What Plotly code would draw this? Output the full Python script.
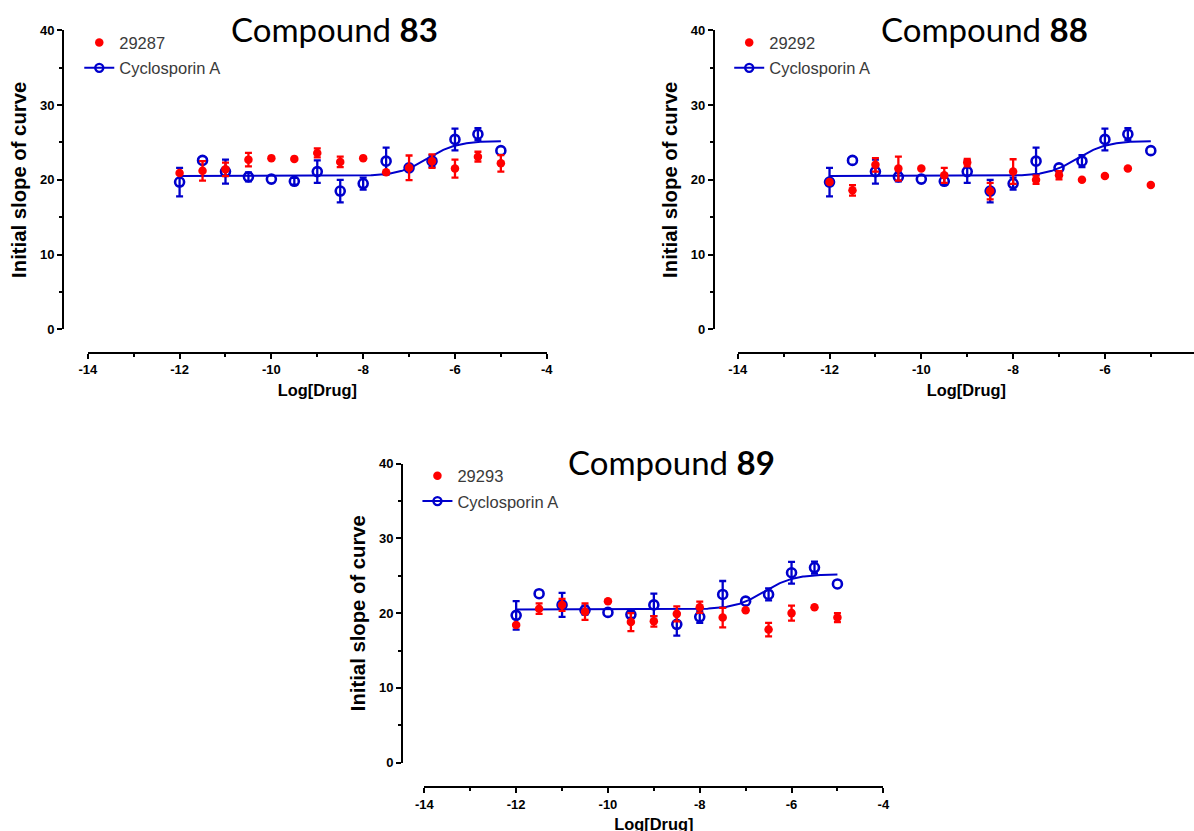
import numpy as np
import plotly.graph_objects as go

# Figure canvas, plus the page-to-picture mapping of the viewer
# (body margin of 8px; the captured page area is slightly larger than the picture)
FW, FH = 1202, 839
BODY_MARGIN = 8
SX, SY = 1194 / 1210, 831 / 847

# Log10 molar concentration of each test point
log_drug = [-12.0, -11.5, -11.0, -10.5, -10.0, -9.5, -9.0, -8.5,
            -8.0, -7.5, -7.0, -6.5, -6.0, -5.5, -5.0]

# Cyclosporin A reference (same run on every panel): mean and SEM
# (None: error bar shorter than the symbol, not drawn)
csa_mean = [19.7, 22.6, 21.1, 20.4, 20.1, 19.8, 21.1, 18.5,
            19.5, 22.5, 21.6, 22.5, 25.4, 26.1, 23.9]
csa_sem = [1.9, None, 1.6, 0.6, None, 0.45, 1.5, 1.5,
           0.8, 1.8, None, 0.8, 1.45, 0.8, None]

# Cyclosporin A four-parameter logistic fit
csa_bottom, csa_top, csa_log_ec50, csa_hill = 20.5, 25.2, -6.6, 1.35

# Compound 83 (29287)
c83_mean = [20.9, 21.2, 21.4, 22.7, 22.9, 22.8, 23.6, 22.4,
            22.9, 21.0, 21.6, 22.5, 21.5, 23.1, 22.2]
c83_sem = [None, 1.3, 0.9, 0.9, None, None, 0.6, 0.7,
           None, None, 1.65, 0.9, 1.2, 0.65, 1.1]

# Compound 88 (29292)
c88_mean = [19.7, 18.6, 22.0, 21.5, 21.5, 20.6, 22.3, 18.5,
            21.1, 20.0, 20.6, 20.0, 20.5, 21.5, 19.3]
c88_sem = [None, 0.7, 0.9, 1.6, None, 1.0, 0.5, 1.1,
           1.65, 0.55, 0.55, None, None, None, None]

# Compound 89 (29293)
c89_mean = [18.4, 20.6, 21.1, 20.2, 21.6, 18.8, 18.9, 19.9,
            20.8, 19.4, 20.4, 17.8, 20.0, 20.8, 19.4]
c89_sem = [None, 0.7, 0.8, 1.1, None, 1.2, 0.7, 1.0,
           0.75, 1.3, None, 0.9, 1.0, None, 0.6]

compound_labels = ["83", "88", "89"]
compound_codes = ["29287", "29292", "29293"]
compound_means = [c83_mean, c88_mean, c89_mean]
compound_sems = [c83_sem, c88_sem, c89_sem]

x_tickvals = [-14, -12, -10, -8, -6, -4]
x_ticktext = ["-14", "-12", "-10", "-8", "-6", "-4"]
y_tickvals = [0, 10, 20, 30, 40]
y_ticktext = ["0", "10", "20", "30", "40"]

RED = "#FF0000"
BLUE = "#0000CC"
FONT = "Liberation Sans"


def cx(px):
    """Picture x pixel -> figure x pixel."""
    return px / SX - BODY_MARGIN


def cy(py):
    """Picture y pixel (from top) -> figure y pixel."""
    return py / SY - BODY_MARGIN


def fx(px):
    return cx(px) / FW


def fy(py):
    return 1 - cy(py) / FH


def error_bar_trace(means, sems, color, xa, ya):
    """Error bars only for the points whose SEM reaches beyond the symbol."""
    keep = [k for k, s in enumerate(sems) if s is not None]
    return go.Scatter(
        x=[log_drug[k] for k in keep], y=[means[k] for k in keep],
        xaxis=xa, yaxis=ya, mode="markers",
        marker=dict(size=1, color="rgba(0,0,0,0)"),
        error_y=dict(type="data", array=[sems[k] for k in keep], visible=True,
                     color=color, thickness=2.3, width=3.5),
        showlegend=False, hoverinfo="skip")


# Picture-pixel placement of each panel: x of the -14 and -4 ticks, y of 0 and 40,
# axis line offsets, title centre and first legend marker
panel_boxes = [
    dict(x_lo=86.7, x_hi=545.7, y40=31, y0=330, yline_x=62, xline_y=353.3,
         title_x=333, title_y=30, leg_x=98.3, leg_y=42.7),
    dict(x_lo=736.7, x_hi=1195.7, y40=31, y0=330, yline_x=712.7, xline_y=353.3,
         title_x=983, title_y=30, leg_x=748.3, leg_y=42.7),
    dict(x_lo=423.3, x_hi=882.3, y40=464, y0=762.7, yline_x=401, xline_y=787.3,
         title_x=670, title_y=462, leg_x=436.5, leg_y=475.5),
]

fit_x = np.linspace(-12, -5, 300)
fit_y = csa_bottom + (csa_top - csa_bottom) / (1 + 10 ** ((csa_log_ec50 - fit_x) * csa_hill))

fig = go.Figure()
layout_axes = {}
annotations = []
legends = {}

for i, box in enumerate(panel_boxes):
    n = "" if i == 0 else str(i + 1)
    xa, ya = "x" + n, "y" + n
    leg = "legend" + n

    # fitted curve for Cyclosporin A
    fig.add_trace(go.Scatter(
        x=fit_x, y=fit_y, xaxis=xa, yaxis=ya, mode="lines",
        line=dict(color=BLUE, width=2), showlegend=False, hoverinfo="skip"))
    # Cyclosporin A points
    fig.add_trace(error_bar_trace(csa_mean, csa_sem, BLUE, xa, ya))
    fig.add_trace(go.Scatter(
        x=log_drug, y=csa_mean, xaxis=xa, yaxis=ya, mode="markers",
        marker=dict(symbol="circle-open", size=9, color=BLUE, line=dict(width=2.6, color=BLUE)),
        showlegend=False, name="Cyclosporin A"))
    # legend entry for Cyclosporin A (line + open circle)
    fig.add_trace(go.Scatter(
        x=[None], y=[None], xaxis=xa, yaxis=ya, mode="lines+markers",
        marker=dict(symbol="circle-open", size=8, color=BLUE, line=dict(width=2.4, color=BLUE)),
        line=dict(color=BLUE, width=2), name="Cyclosporin A",
        legend=leg, legendrank=2, legendgroup="csa" + n))
    # test compound
    fig.add_trace(error_bar_trace(compound_means[i], compound_sems[i], RED, xa, ya))
    fig.add_trace(go.Scatter(
        x=log_drug, y=compound_means[i], xaxis=xa, yaxis=ya, mode="markers",
        marker=dict(symbol="circle", size=8.5, color=RED),
        name=compound_codes[i], legend=leg, legendrank=1, legendgroup="cpd" + n))

    # x axis spans -14..-4; trimmed at the canvas edge when it runs past it
    x0, x1 = cx(box["x_lo"]), cx(box["x_hi"])
    x1_vis = min(x1, FW)
    x_end = -14 + 10 * (x1_vis - x0) / (x1 - x0)
    layout_axes["xaxis" + n] = dict(
        domain=[x0 / FW, x1_vis / FW], range=[-14, x_end],
        anchor="free", position=fy(box["xline_y"]),
        showline=True, linewidth=2, linecolor="black", showgrid=False, zeroline=False,
        ticks="outside", ticklen=5, tickwidth=2, tickcolor="black",
        tickvals=x_tickvals, ticktext=x_ticktext,
        tickfont=dict(family=FONT, size=13, color="black", weight="bold"),
        minor=dict(ticks="outside", ticklen=3, tickwidth=1.5, tickcolor="black", dtick=1, tick0=-14),
        title=dict(text="Log[Drug]", font=dict(family=FONT, size=16.4, color="black", weight="bold"),
                   standoff=7),
    )
    layout_axes["yaxis" + n] = dict(
        domain=[fy(box["y0"]), fy(box["y40"])], range=[0, 40],
        anchor="free", position=fx(box["yline_x"]),
        showline=True, linewidth=2, linecolor="black", showgrid=False, zeroline=False,
        ticks="outside", ticklen=5, tickwidth=2, tickcolor="black",
        tickvals=y_tickvals, ticktext=y_ticktext,
        tickfont=dict(family=FONT, size=13, color="black", weight="bold"),
        minor=dict(ticks="outside", ticklen=3, tickwidth=1.5, tickcolor="black", dtick=5, tick0=0),
        title=dict(text="Initial slope of curve", font=dict(family=FONT, size=20.3, color="black", weight="bold"),
                   standoff=7),
    )
    legends[leg] = dict(
        x=(cx(box["leg_x"]) - 20.4) / FW, y=1 - (cy(box["leg_y"]) - 17) / FH,
        xanchor="left", yanchor="top",
        bgcolor="rgba(0,0,0,0)", borderwidth=0, tracegroupgap=1,
        font=dict(family=FONT, size=16.5, color="#3a3a3a"),
    )
    annotations.append(dict(
        x=fx(box["title_x"]), y=fy(box["title_y"]), xref="paper", yref="paper",
        xanchor="center", yanchor="middle", showarrow=False,
        text="Compound <b>" + compound_labels[i] + "</b>",
        font=dict(family="Lato", size=33, color="black"),
    ))

fig.update_layout(
    width=FW, height=FH, autosize=False,
    margin=dict(l=0, r=0, t=0, b=0),
    paper_bgcolor="white", plot_bgcolor="white",
    annotations=annotations,
    **layout_axes, **legends,
)

fig.write_html("out.html")
